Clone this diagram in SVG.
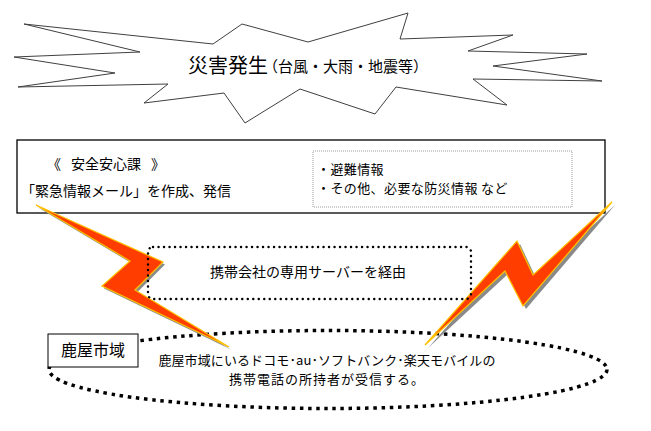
<svg xmlns="http://www.w3.org/2000/svg" width="651" height="431" viewBox="0 0 651 431">
<defs>
<style>
text{font-family:"Noto Sans CJK JP","Noto Sans",sans-serif;fill:#000}
.t14{font-size:14px}
.t13{font-size:13px}
.bolt{fill:#FF3D00;stroke:#FFC000;stroke-width:1.2;stroke-linejoin:miter}
.shadow{fill:#8a8a8a}
</style>
</defs>
<rect width="651" height="431" fill="#fff"/>
<g id="disaster">
<polygon points="24,24 213,44 242,24 308,42 408,13 400,39 513,35 468,51 587,54 493,66 602,81 473,79 507,105 396,87 375,114 300,89 245,123 224,93 144,103 168,84 18,87 115,73 14,57 140,52" fill="#fff" stroke="#404040" stroke-width="1"/>
<text x="188" y="73" font-size="20">災害発生</text>
<text x="263" y="72" font-size="15">（台風・大雨・地震等）</text>
</g>
<g id="safety-dept">
<rect x="17" y="140" width="588" height="73" fill="#fff" stroke="#000" stroke-width="1.3"/>
<text class="t14" x="47" y="169">《<tspan x="71">安全安心課</tspan><tspan x="151">》</tspan></text>
<text class="t14" x="21" y="196">「緊急情報メール」を作成、発信</text>
</g>
<g id="info">
<rect x="313" y="151" width="259" height="56" fill="#fff" stroke="#999" stroke-width="1" stroke-dasharray="1 1"/>
<text class="t13" x="317" y="174" letter-spacing="0.4">・避難情報</text>
<text class="t13" x="317" y="193" letter-spacing="0.4">・その他、必要な防災情報 など</text>
</g>
<g id="region">
<ellipse cx="328" cy="369.5" rx="279" ry="39" fill="none" stroke="#000" stroke-width="3.5" stroke-dasharray="3.5 4.7"/>
</g>
<g id="region-label">
<rect x="48" y="334" width="90" height="33" fill="#fff" stroke="#000" stroke-width="1"/>
<text x="93" y="356" font-size="16" text-anchor="middle">鹿屋市域</text>
</g>
<g id="connectors">
<polygon class="shadow" transform="translate(2,2.5)" points="36,205 163,262 135,290 229,347 102,286 130,261"/>
<polygon class="bolt" points="36,205 163,262 135,290 229,347 102,286 130,261"/>
<polygon class="shadow" transform="translate(3,3)" points="612,202 533,275 517,241 425,345 505,271 523,306"/>
<polygon class="bolt" points="612,202 533,275 517,241 425,345 505,271 523,306"/>
</g>
<g id="server">
<rect x="148" y="247" width="323" height="52" rx="5" fill="none" stroke="#000" stroke-width="2.4" stroke-linecap="round" stroke-dasharray="0.1 5.4"/>
<text class="t14" x="308" y="277" text-anchor="middle">携帯会社の専用サーバーを経由</text>
</g>
<g id="region-text">
<text class="t13" x="327" y="364.5" text-anchor="middle" letter-spacing="0.1">鹿屋市域にいるドコモ･au･ソフトバンク･楽天モバイルの</text>
<text class="t13" x="327" y="383.5" text-anchor="middle" letter-spacing="1">携帯電話の所持者が受信する。</text>
</g>
</svg>
